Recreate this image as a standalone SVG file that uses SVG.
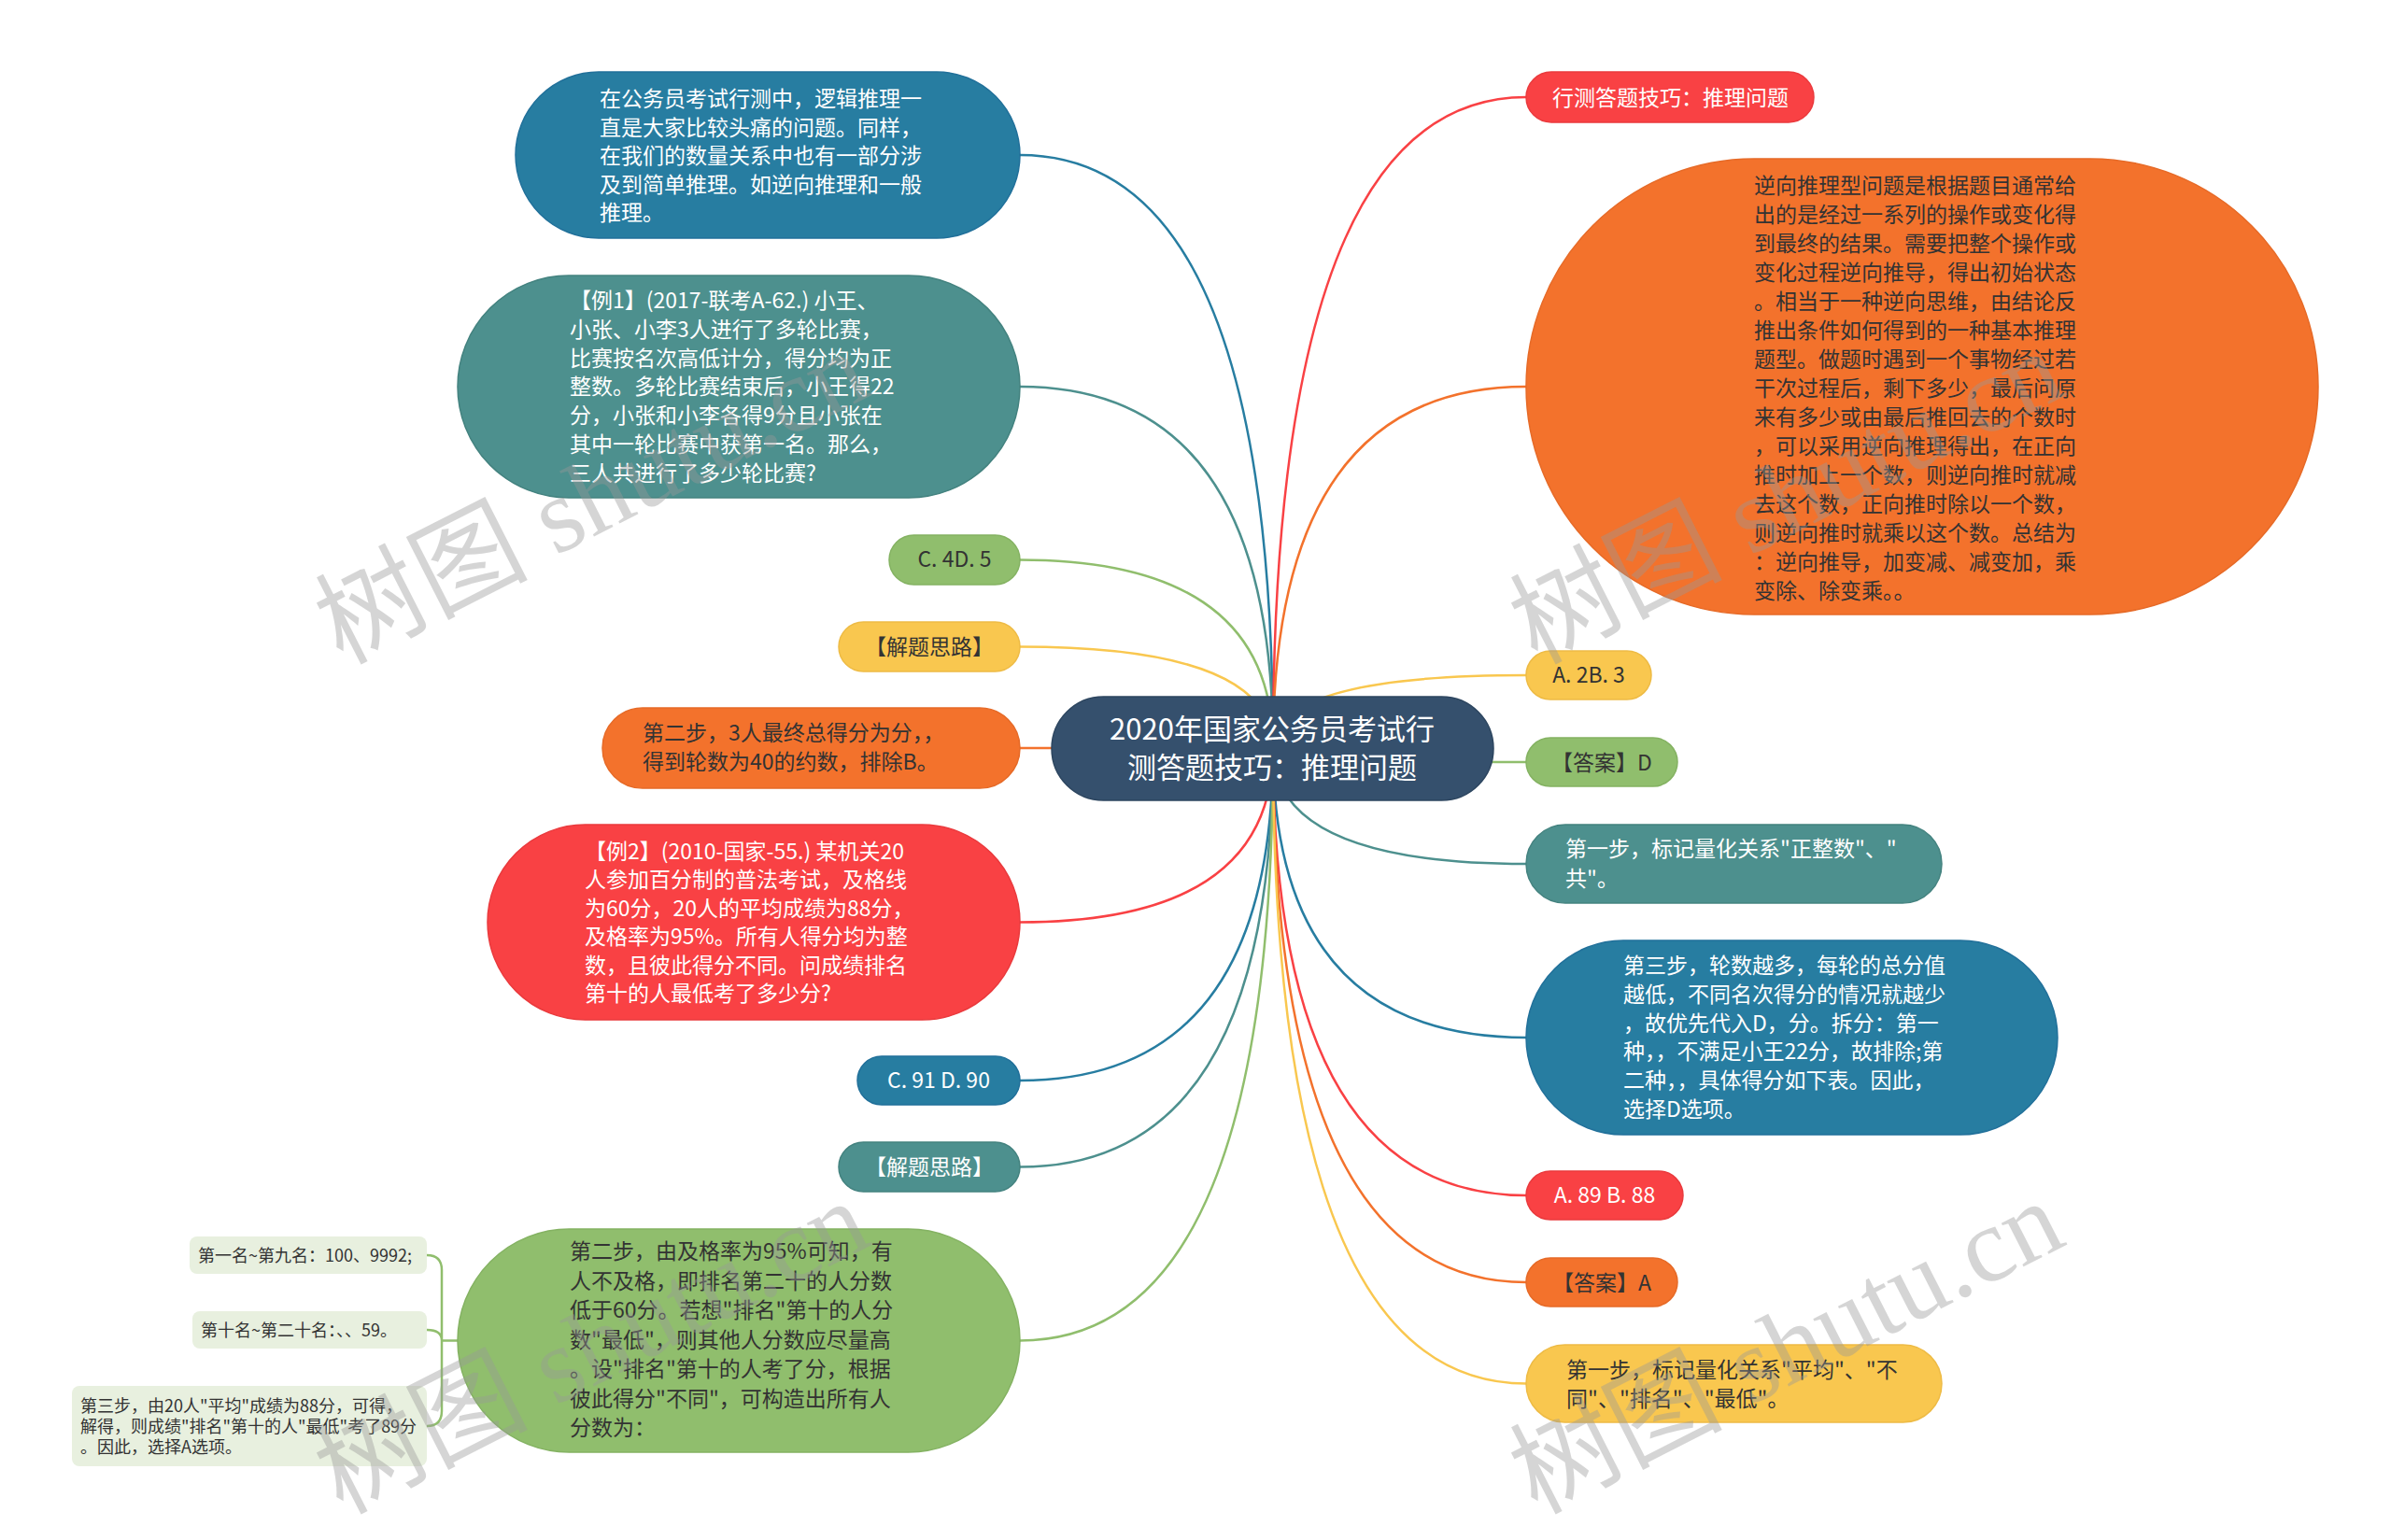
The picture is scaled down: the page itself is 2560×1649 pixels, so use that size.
<svg xmlns="http://www.w3.org/2000/svg" width="2560" height="1649" viewBox="0 0 2560 1649">
<style>
.bg{fill:#ffffff}
.c path{fill:none;stroke-width:2.5}
.t{font-family:"Noto Sans CJK SC","Liberation Sans",sans-serif;font-size:23px}
.ts{font-family:"Noto Sans CJK SC","Liberation Sans",sans-serif;font-size:18px;fill:#333}
.tc{font-family:"Noto Sans CJK SC","Liberation Sans",sans-serif;font-size:31px;fill:#fff}
.w{fill:#ffffff}
.d{fill:#333333}
.mid{text-anchor:middle}
.blue{fill:#277da1;stroke:#21709a;stroke-width:1.5}
.teal{fill:#4d908e;stroke:#43827f;stroke-width:1.5}
.green{fill:#90be6d;stroke:#84b262;stroke-width:1.5}
.yellow{fill:#f9c74f;stroke:#eebb45;stroke-width:1.5}
.orange{fill:#f3722c;stroke:#e66a27;stroke-width:1.5}
.red{fill:#f94144;stroke:#ea3a3d;stroke-width:1.5}
.sub{fill:#e8f0df}
.wm{font-family:"Liberation Serif","Noto Sans CJK SC",serif;font-size:114px;fill:#999999;opacity:0.4}
</style>
<rect class="bg" x="0" y="0" width="2560" height="1649"/>
<g id="connectors" class="c">
<path d="M1363 801 Q1363 166 1092 166" stroke="#277da1"/>
<path d="M1363 801 Q1363 414 1092 414" stroke="#4d908e"/>
<path d="M1363 801 Q1363 599.5 1092 599.5" stroke="#90be6d"/>
<path d="M1363 801 Q1363 692.5 1092 692.5" stroke="#f9c74f"/>
<path d="M1363 801 L1092 801" stroke="#f3722c"/>
<path d="M1363 801 Q1363 987.5 1092 987.5" stroke="#f94144"/>
<path d="M1363 801 Q1363 1157 1092 1157" stroke="#277da1"/>
<path d="M1363 801 Q1363 1249.5 1092 1249.5" stroke="#4d908e"/>
<path d="M1363 801 Q1363 1435.5 1092 1435.5" stroke="#90be6d"/>
<path d="M1363 801 Q1363 104 1634 104" stroke="#f94144"/>
<path d="M1363 801 Q1363 414 1634 414" stroke="#f3722c"/>
<path d="M1363 801 Q1363 723 1634 723" stroke="#f9c74f"/>
<path d="M1363 801 Q1363 816 1634 816" stroke="#90be6d"/>
<path d="M1363 801 Q1363 925 1634 925" stroke="#4d908e"/>
<path d="M1363 801 Q1363 1111 1634 1111" stroke="#277da1"/>
<path d="M1363 801 Q1363 1280 1634 1280" stroke="#f94144"/>
<path d="M1363 801 Q1363 1373 1634 1373" stroke="#f3722c"/>
<path d="M1363 801 Q1363 1481.5 1634 1481.5" stroke="#f9c74f"/>
<path d="M490 1435.5 L473 1435.5 M457 1344 Q473 1344 473 1360 L473 1511 Q473 1527 457 1527 M457 1424 Q473 1424 473 1435.5" stroke="#90be6d"/>
</g>
<g id="center">
<rect x="1126" y="746" width="473" height="111" rx="55.5" fill="#35506d" stroke="#2c455f" stroke-width="1.5"/>
<text class="tc mid" x="1362" y="792">2020年国家公务员考试行</text>
<text class="tc mid" x="1362" y="833">测答题技巧：推理问题</text>
</g>
<g id="n1">
<rect class="blue" x="552" y="77" width="540" height="178" rx="89"/>
<text class="t w" x="642" y="114">在公务员考试行测中，逻辑推理一</text>
<text class="t w" x="642" y="144.5">直是大家比较头痛的问题。同样，</text>
<text class="t w" x="642" y="175">在我们的数量关系中也有一部分涉</text>
<text class="t w" x="642" y="205.5">及到简单推理。如逆向推理和一般</text>
<text class="t w" x="642" y="236">推理。</text>
</g>
<g id="n2">
<rect class="teal" x="490" y="295" width="602" height="238" rx="119"/>
<text class="t w" x="610" y="330">【例1】(2017-联考A-62.) 小王、</text>
<text class="t w" x="610" y="360.8">小张、小李3人进行了多轮比赛，</text>
<text class="t w" x="610" y="391.6">比赛按名次高低计分，得分均为正</text>
<text class="t w" x="610" y="422.4">整数。多轮比赛结束后，小王得22</text>
<text class="t w" x="610" y="453.2">分，小张和小李各得9分且小张在</text>
<text class="t w" x="610" y="484">其中一轮比赛中获第一名。那么，</text>
<text class="t w" x="610" y="514.8">三人共进行了多少轮比赛?</text>
</g>
<g id="n3">
<rect class="green" x="952" y="573" width="140" height="53" rx="26.5"/>
<text class="t d mid" x="1022" y="607">C. 4D. 5</text>
</g>
<g id="n4">
<rect class="yellow" x="898" y="666" width="194" height="53" rx="26.5"/>
<text class="t d mid" x="995" y="701">【解题思路】</text>
</g>
<g id="n5">
<rect class="orange" x="645" y="758" width="447" height="86" rx="43"/>
<text class="t d" x="688" y="793">第二步，3人最终总得分为分，，</text>
<text class="t d" x="688" y="824">得到轮数为40的约数，排除B。</text>
</g>
<g id="n6">
<rect class="red" x="522" y="883" width="570" height="209" rx="104.5"/>
<text class="t w" x="626" y="920">【例2】(2010-国家-55.) 某机关20</text>
<text class="t w" x="626" y="950.4">人参加百分制的普法考试，及格线</text>
<text class="t w" x="626" y="980.8">为60分，20人的平均成绩为88分，</text>
<text class="t w" x="626" y="1011.2">及格率为95%。所有人得分均为整</text>
<text class="t w" x="626" y="1041.6">数，且彼此得分不同。问成绩排名</text>
<text class="t w" x="626" y="1072">第十的人最低考了多少分?</text>
</g>
<g id="n7">
<rect class="blue" x="918" y="1131" width="174" height="52" rx="26"/>
<text class="t w mid" x="1005" y="1165">C. 91 D. 90</text>
</g>
<g id="n8">
<rect class="teal" x="898" y="1223" width="194" height="53" rx="26.5"/>
<text class="t w mid" x="995" y="1258">【解题思路】</text>
</g>
<g id="n9">
<rect class="green" x="490" y="1316" width="602" height="239" rx="119.5"/>
<text class="t d" x="610" y="1348">第二步，由及格率为95%可知，有</text>
<text class="t d" x="610" y="1379.5">人不及格，即排名第二十的人分数</text>
<text class="t d" x="610" y="1411">低于60分。若想"排名"第十的人分</text>
<text class="t d" x="610" y="1442.5">数"最低"，则其他人分数应尽量高</text>
<text class="t d" x="610" y="1474">。设"排名"第十的人考了分，根据</text>
<text class="t d" x="610" y="1505.5">彼此得分"不同"，可构造出所有人</text>
<text class="t d" x="610" y="1537">分数为：</text>
</g>
<g id="n9a">
<rect class="sub" x="203" y="1324" width="254" height="40" rx="8"/>
<text class="ts" x="212" y="1351">第一名~第九名：100、9992;</text>
</g>
<g id="n9b">
<rect class="sub" x="206" y="1404" width="251" height="40" rx="8"/>
<text class="ts" x="215" y="1431">第十名~第二十名：、、59。</text>
</g>
<g id="n9c">
<rect class="sub" x="77" y="1484" width="380" height="86" rx="8"/>
<text class="ts" x="86" y="1512">第三步，由20人"平均"成绩为88分，可得，</text>
<text class="ts" x="86" y="1534">解得，则成绩"排名"第十的人"最低"考了89分</text>
<text class="ts" x="86" y="1556">。因此，选择A选项。</text>
</g>
<g id="r1">
<rect class="red" x="1634" y="77" width="308" height="54" rx="27"/>
<text class="t w" x="1662" y="113">行测答题技巧：推理问题</text>
</g>
<g id="r2">
<rect class="orange" x="1634" y="170" width="848" height="488" rx="244"/>
<text class="t d" x="1878" y="207">逆向推理型问题是根据题目通常给</text>
<text class="t d" x="1878" y="238">出的是经过一系列的操作或变化得</text>
<text class="t d" x="1878" y="269">到最终的结果。需要把整个操作或</text>
<text class="t d" x="1878" y="300">变化过程逆向推导，得出初始状态</text>
<text class="t d" x="1878" y="331">。相当于一种逆向思维，由结论反</text>
<text class="t d" x="1878" y="362">推出条件如何得到的一种基本推理</text>
<text class="t d" x="1878" y="393">题型。做题时遇到一个事物经过若</text>
<text class="t d" x="1878" y="424">干次过程后，剩下多少，最后问原</text>
<text class="t d" x="1878" y="455">来有多少或由最后推回去的个数时</text>
<text class="t d" x="1878" y="486">，可以采用逆向推理得出，在正向</text>
<text class="t d" x="1878" y="517">推时加上一个数，则逆向推时就减</text>
<text class="t d" x="1878" y="548">去这个数，正向推时除以一个数，</text>
<text class="t d" x="1878" y="579">则逆向推时就乘以这个数。总结为</text>
<text class="t d" x="1878" y="610">：逆向推导，加变减、减变加，乘</text>
<text class="t d" x="1878" y="641">变除、除变乘。。</text>
</g>
<g id="r3">
<rect class="yellow" x="1634" y="697" width="134" height="52" rx="26"/>
<text class="t d mid" x="1701" y="731">A. 2B. 3</text>
</g>
<g id="r4">
<rect class="green" x="1634" y="790" width="162" height="52" rx="26"/>
<text class="t d mid" x="1715" y="825">【答案】D</text>
</g>
<g id="r5">
<rect class="teal" x="1634" y="883" width="445" height="84" rx="42"/>
<text class="t w" x="1676" y="917">第一步，标记量化关系"正整数"、"</text>
<text class="t w" x="1676" y="949">共"。</text>
</g>
<g id="r6">
<rect class="blue" x="1634" y="1007" width="569" height="208" rx="104"/>
<text class="t w" x="1738" y="1042">第三步，轮数越多，每轮的总分值</text>
<text class="t w" x="1738" y="1072.8">越低，不同名次得分的情况就越少</text>
<text class="t w" x="1738" y="1103.6">，故优先代入D，分。拆分：第一</text>
<text class="t w" x="1738" y="1134.4">种，，不满足小王22分，故排除;第</text>
<text class="t w" x="1738" y="1165.2">二种，，具体得分如下表。因此，</text>
<text class="t w" x="1738" y="1196">选择D选项。</text>
</g>
<g id="r7">
<rect class="red" x="1634" y="1254" width="168" height="52" rx="26"/>
<text class="t w mid" x="1718" y="1288">A. 89 B. 88</text>
</g>
<g id="r8">
<rect class="orange" x="1634" y="1347" width="162" height="52" rx="26"/>
<text class="t d mid" x="1715" y="1382">【答案】A</text>
</g>
<g id="r9">
<rect class="yellow" x="1634" y="1440" width="445" height="83" rx="41.5"/>
<text class="t d" x="1677" y="1475">第一步，标记量化关系"平均"、"不</text>
<text class="t d" x="1677" y="1506">同"、"排名"、"最低"。</text>
</g>
<g id="watermark">
<text class="wm" x="366" y="712" transform="rotate(-27 366 712)">树图 shutu.cn</text>
<text class="wm" x="1645" y="712" transform="rotate(-27 1645 712)">树图 shutu.cn</text>
<text class="wm" x="366" y="1622" transform="rotate(-27 366 1622)">树图 shutu.cn</text>
<text class="wm" x="1645" y="1622" transform="rotate(-27 1645 1622)">树图 shutu.cn</text>
</g>
</svg>
